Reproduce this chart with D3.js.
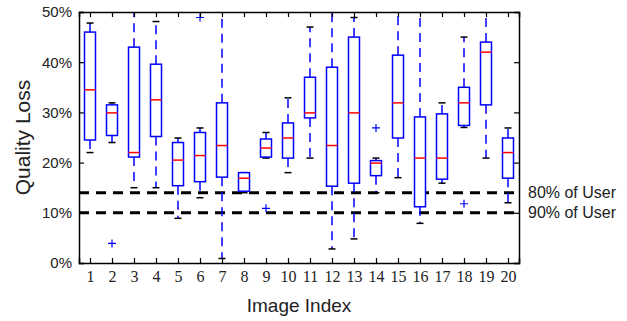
<!DOCTYPE html>
<html>
<head>
<meta charset="utf-8">
<script src="https://cdn.jsdelivr.net/npm/d3@7"></script>
<style>
  body { margin: 0; background: #fff; }
  svg { display: block; }
</style>
</head>
<body>
<div id="chart"></div>
<script>
// box stats per image (percent); whiskers above 50 run off the top of the plot
const images     = d3.range(1, 21);
const whiskerHi  = [47.8, 31.9, 55, 48.1, 24.9, 26.9, 55, 18.0, 26.0, 32.9, 47.0, 55, 48.9, 20.9, 55, 55, 31.9, 45.0, 55, 26.9];
const q3         = [46.0, 31.5, 43.0, 39.6, 24.0, 26.0, 31.9, 18.0, 24.7, 27.9, 37.0, 39.0, 45.0, 20.4, 41.4, 29.1, 29.7, 35.0, 44.0, 24.9];
const medians    = [34.5, 29.9, 22.0, 32.5, 20.5, 21.4, 23.4, 16.9, 22.9, 24.9, 29.9, 23.4, 29.9, 19.9, 31.9, 20.9, 20.9, 31.9, 42.0, 22.0];
const q1         = [24.5, 25.4, 21.1, 25.2, 15.4, 16.2, 17.1, 14.3, 21.1, 20.9, 28.9, 15.3, 15.9, 17.4, 24.9, 11.2, 16.7, 27.4, 31.5, 16.9];
const whiskerLo  = [22.0, 24.0, 15.0, 15.0, 8.9, 13.0, 0.9, 14.0, 20.9, 18.0, 20.9, 2.8, 4.8, 14.0, 17.0, 7.9, 15.9, 27.0, 20.9, 12.0];
const outliers   = [[], [3.9], [], [], [], [48.9], [], [], [10.9], [], [], [], [], [26.9], [], [], [], [11.8], [], []];
const userLines  = [14, 10];
const userLabels = ['80% of User', '90% of User'];
const yTicks     = [0, 10, 20, 30, 40, 50];

const W = 627, H = 321;
const margin = {top: 12, right: 108, bottom: 58, left: 79};

const svg = d3.select('#chart').append('svg')
    .attr('width', W)
    .attr('height', H);

const x = d3.scaleLinear().domain([0.5, 20.5]).range([margin.left, W - margin.right]);
const y = d3.scaleLinear().domain([0, 50]).range([H - margin.bottom, margin.top]);

svg.append('clipPath').attr('id', 'plot-clip')
  .append('rect')
    .attr('x', margin.left).attr('y', margin.top)
    .attr('width', W - margin.left - margin.right)
    .attr('height', H - margin.top - margin.bottom);

const plot = svg.append('g').attr('clip-path', 'url(#plot-clip)');

let boxes = images.map((d, i) => ({
  idx: d, hi: whiskerHi[i], q3: q3[i], med: medians[i], q1: q1[i], lo: whiskerLo[i], out: outliers[i]
}));

let boxW = (x(2) - x(1)) * 0.5,
    capW = 7;

// threshold lines
plot.selectAll('.user-line')
  .data(userLines)
  .enter().append('line')
    .attr('x1', margin.left).attr('x2', W - margin.right)
    .attr('y1', d => y(d)).attr('y2', d => y(d))
    .attr('stroke', '#000')
    .attr('stroke-width', 3)
    .attr('stroke-dasharray', '10,7');

let g = plot.selectAll('.box')
  .data(boxes)
  .enter().append('g')
    .attr('class', 'box');

// whiskers
g.append('line')
    .attr('x1', d => x(d.idx)).attr('x2', d => x(d.idx))
    .attr('y1', d => y(d.q3)).attr('y2', d => y(d.hi))
    .attr('stroke', '#0000ff').attr('stroke-width', 1.5)
    .attr('stroke-dasharray', '9,6');
g.append('line')
    .attr('x1', d => x(d.idx)).attr('x2', d => x(d.idx))
    .attr('y1', d => y(d.q1)).attr('y2', d => y(d.lo))
    .attr('stroke', '#0000ff').attr('stroke-width', 1.5)
    .attr('stroke-dasharray', '9,6');

// caps
['hi', 'lo'].forEach(k => {
  g.append('line')
      .attr('x1', d => x(d.idx) - capW / 2).attr('x2', d => x(d.idx) + capW / 2)
      .attr('y1', d => y(d[k])).attr('y2', d => y(d[k]))
      .attr('stroke', '#000').attr('stroke-width', 1.5);
});

// boxes
g.append('rect')
    .attr('x', d => x(d.idx) - boxW / 2)
    .attr('y', d => y(d.q3))
    .attr('width', boxW)
    .attr('height', d => y(d.q1) - y(d.q3))
    .attr('fill', '#fff')
    .attr('stroke', '#0000ff')
    .attr('stroke-width', 1.5);

// medians
g.append('line')
    .attr('x1', d => x(d.idx) - boxW / 2).attr('x2', d => x(d.idx) + boxW / 2)
    .attr('y1', d => y(d.med)).attr('y2', d => y(d.med))
    .attr('stroke', '#ff0000').attr('stroke-width', 1.5);

// outliers as '+'
g.selectAll('.out')
  .data(d => d.out.map(v => ({idx: d.idx, v: v})))
  .enter().append('path')
    .attr('d', d => {
      let cx = x(d.idx), cy = y(d.v), s = 4;
      return `M${cx - s},${cy}H${cx + s}M${cx},${cy - s}V${cy + s}`;
    })
    .attr('stroke', '#0000ff').attr('stroke-width', 1.2)
    .attr('fill', 'none');

// axes, ticks pointing inward on all four sides
const sans = 'Liberation Sans, Arial, sans-serif';
const serif = 'Liberation Serif, Times New Roman, serif';

svg.append('g')
    .attr('transform', `translate(0,${y(0)})`)
    .call(d3.axisBottom(x).tickValues(images).tickSize(-5).tickPadding(8).tickFormat(d3.format('d')))
    .call(a => a.selectAll('text').attr('font-family', serif).attr('font-size', 16).attr('fill', '#222'));

svg.append('g')
    .attr('transform', `translate(0,${y(50)})`)
    .call(d3.axisTop(x).tickValues(images).tickSize(-5).tickFormat(''));

svg.append('g')
    .attr('transform', `translate(${x(0.5)},0)`)
    .call(d3.axisLeft(y).tickValues(yTicks).tickSize(-5).tickPadding(7).tickFormat(d => d + '%'))
    .call(a => a.selectAll('text').attr('font-family', sans).attr('font-size', 15).attr('fill', '#222'));

svg.append('g')
    .attr('transform', `translate(${x(20.5)},0)`)
    .call(d3.axisRight(y).tickValues(yTicks).tickSize(-5).tickFormat(''));

svg.selectAll('.domain').attr('stroke-width', 1.5);
svg.selectAll('.tick line').attr('stroke-width', 1.2);

// threshold labels
svg.selectAll('.user-label')
  .data(userLines)
  .enter().append('text')
    .attr('x', x(20.5) + 9)
    .attr('y', d => y(d))
    .attr('dy', '0.35em')
    .attr('font-family', sans)
    .attr('font-size', 16)
    .attr('fill', '#222')
    .text((d, i) => userLabels[i]);

// axis titles
svg.append('text')
    .attr('x', (margin.left + W - margin.right) / 2)
    .attr('y', 312)
    .attr('text-anchor', 'middle')
    .attr('font-family', sans)
    .attr('font-size', 19)
    .attr('fill', '#222')
    .text('Image Index');

svg.append('text')
    .attr('transform', `translate(30,${(margin.top + H - margin.bottom) / 2}) rotate(-90)`)
    .attr('text-anchor', 'middle')
    .attr('font-family', sans)
    .attr('font-size', 21)
    .attr('fill', '#222')
    .text('Quality Loss');
</script>
</body>
</html>
